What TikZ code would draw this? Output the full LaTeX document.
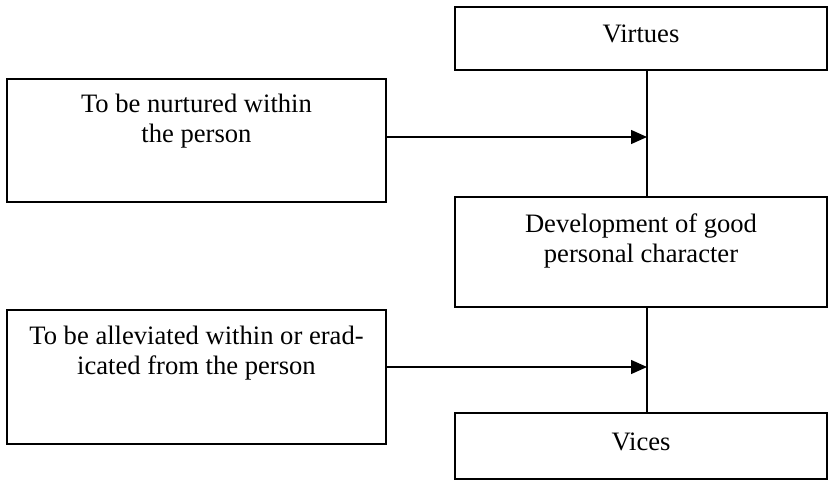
\documentclass[tikz,border=0pt]{standalone}
\usepackage{fontspec}
\setmainfont{Liberation Serif}
\usetikzlibrary{arrows.meta,positioning}
\tikzset{
  box/.style={draw, line width=0.9pt, inner sep=0pt},
  txt/.style={align=center, inner sep=0pt, font=\fontsize{13.3}{15}\selectfont},
  link/.style={line width=0.7pt},
  into/.style={link, -{Triangle[length=8pt,width=7pt]}}
}
\begin{document}
\begin{tikzpicture}[x=0.5pt,y=-0.5pt]
\useasboundingbox (0,0) rectangle (828,481);
% boxes
\node[box, minimum width=186pt, minimum height=31.5pt] (virt) at (641,38.5) {};
\node[box, minimum width=189.5pt, minimum height=61.5pt] (nurt) at (196.5,140.5) {};
\node[box, minimum width=186pt, minimum height=55pt] (devel) at (641,252) {};
\node[box, minimum width=189.5pt, minimum height=67pt] (allev) at (196.5,377) {};
\node[box, minimum width=186pt, minimum height=33pt] (vices) at (641,446) {};
% texts
\node[txt, below=9.3pt of virt.north] (virttxt) {Virtues};
\node[txt, below=8pt of nurt.north] (nurttxt) {To be nurtured within\\the person};
\node[txt, below=8.5pt of devel.north] (develtxt) {Development of good\\personal character};
\node[txt, below=8.5pt of allev.north] (allevtxt) {To be alleviated within or erad-\\icated from the person};
\node[txt, below=10pt of vices.north] (vicestxt) {Vices};
% spine
\coordinate (spine) at ([xshift=3pt]virt.south);
\draw[link] (spine) -- (spine |- devel.north);
\draw[link] (spine |- devel.south) -- (spine |- vices.north);
% arrows
\coordinate (nurtout) at ([yshift=1.75pt]nurt.east);
\coordinate (allevout) at ([yshift=5pt]allev.east);
\draw[into] (nurtout) -- (nurtout -| spine);
\draw[into] (allevout) -- (allevout -| spine);
\end{tikzpicture}
\end{document}
